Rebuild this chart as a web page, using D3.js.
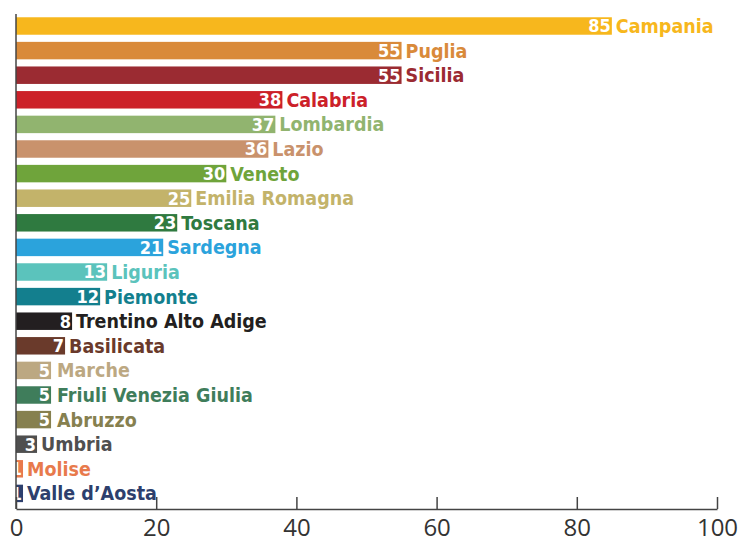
<!DOCTYPE html>
<html>
<head>
<meta charset="utf-8">
<script src="https://cdn.jsdelivr.net/npm/d3@7"></script>
<style>
  body { margin: 0; background: #fff; }
  svg { display: block; }
</style>
</head>
<body>
<script>
// regions and counts, top to bottom
var regions = ["Campania", "Puglia", "Sicilia", "Calabria", "Lombardia", "Lazio", "Veneto",
               "Emilia Romagna", "Toscana", "Sardegna", "Liguria", "Piemonte", "Trentino Alto Adige",
               "Basilicata", "Marche", "Friuli Venezia Giulia", "Abruzzo", "Umbria", "Molise", "Valle d\u2019Aosta"];
var values = [85, 55, 55, 38, 37, 36, 30, 25, 23, 21, 13, 12, 8, 7, 5, 5, 5, 3, 1, 1];
var colors = ["#f7b71d", "#d98a3a", "#9b2b32", "#cc2129", "#91b46f", "#c9926c", "#6fa43b",
              "#c3b36a", "#2f7a40", "#2ba3dc", "#5bc3bc", "#137f8e", "#231f20",
              "#6a3a2b", "#bca882", "#3f7d5b", "#86804f", "#4f4f4f", "#e87a4c", "#2d3f6d"];
var xTicks = [0, 20, 40, 60, 80, 100];

var width = 741
  , height = 542
  , x0 = 16
  , x1 = 717
  , axisY = 509
  ;

var font = "'DejaVu Sans Condensed', 'Liberation Sans Narrow', sans-serif";

var svg = d3.select("body").append("svg").attr("width", width).attr("height", height);

var x = d3.scaleLinear().domain([0, 100]).range([x0, x1]);
var y = d3.scaleBand().domain(regions).range([13.7, 505.7]).paddingInner(0.29).paddingOuter(0.145);

var rows = svg.selectAll("g.row")
    .data(regions)
    .enter().append("g")
    .attr("class", "row");

rows.append("rect")
    .attr("x", x(0))
    .attr("y", function (d) { return y(d); })
    .attr("width", function (d, i) { return x(values[i]) - x(0); })
    .attr("height", y.bandwidth())
    .attr("fill", function (d, i) { return colors[i]; });

// white count at the end of each bar
rows.append("text")
    .attr("x", function (d, i) { return x(values[i]) - 1; })
    .attr("y", function (d) { return y(d) + y.bandwidth() / 2; })
    .attr("dy", "0.36em")
    .attr("text-anchor", "end")
    .attr("fill", "#fff")
    .attr("font-family", font)
    .attr("font-weight", "bold")
    .attr("font-size", 18)
    .text(function (d, i) { return values[i]; });

// region name after the bar
rows.append("text")
    .attr("x", function (d, i) { return x(values[i]) + (values[i] === 5 ? 6 : 4); })
    .attr("y", function (d) { return y(d) + y.bandwidth() / 2; })
    .attr("dy", "0.36em")
    .attr("fill", function (d, i) { return colors[i]; })
    .attr("font-family", font)
    .attr("font-weight", "bold")
    .attr("font-size", 19.5)
    .text(function (d) { return d; });

// vertical axis line
svg.append("line")
    .attr("x1", x0).attr("x2", x0)
    .attr("y1", 14).attr("y2", axisY)
    .attr("stroke", "#444")
    .attr("stroke-width", 1.5);

var xAxis = d3.axisBottom(x)
    .tickValues(xTicks)
    .tickSizeInner(-12)
    .tickSizeOuter(0)
    .tickPadding(9);

var gx = svg.append("g")
    .attr("transform", "translate(0," + axisY + ")")
    .call(xAxis);

gx.select(".domain").attr("stroke", "#444").attr("stroke-width", 1.5);
gx.selectAll(".tick line").attr("stroke", "#444").attr("stroke-width", 1.5);
gx.selectAll(".tick text")
    .attr("y", 10)
    .attr("dy", "0.71em")
    .attr("fill", "#333")
    .attr("font-family", "'Open Sans', sans-serif")
    .attr("font-size", 24);
</script>
</body>
</html>
